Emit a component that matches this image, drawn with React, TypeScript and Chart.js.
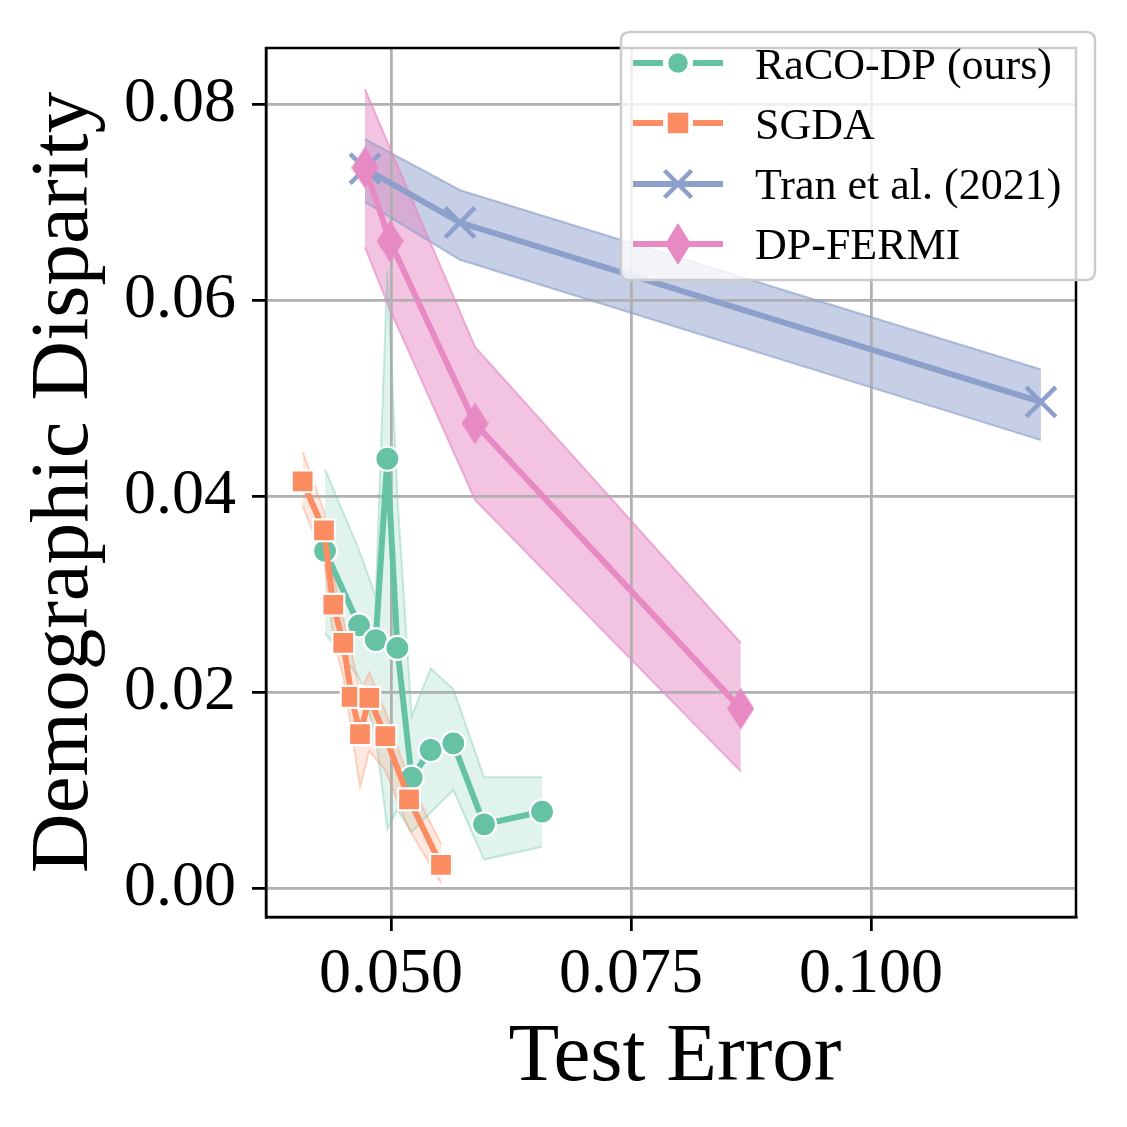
import React, { useEffect, useRef } from 'react';
import { Chart, registerables } from 'chart.js';

Chart.register(...registerables);

// ---------------- data ----------------
const seriesNames = ['RaCO-DP (ours)', 'SGDA', 'Tran et al. (2021)', 'DP-FERMI'];
const seriesColors = ['#66c2a5', '#fc8d62', '#8da0cb', '#e78ac3'];
const bandAlpha = [0.2, 0.2, 0.5, 0.5];

const racoX = [0.04313, 0.04667, 0.04841, 0.04962, 0.05066, 0.05215, 0.05413, 0.05649, 0.05969, 0.06573];
const racoY = [0.0344, 0.0268, 0.0253, 0.0438, 0.0245, 0.01126, 0.01408, 0.01476, 0.0065, 0.00779];
const racoUpper = [0.0427, 0.0345, 0.0297, 0.063, 0.04, 0.0175, 0.0224, 0.0203, 0.0113, 0.0113];
const racoLower = [0.026, 0.0215, 0.0155, 0.006, 0.008, 0.0057, 0.0077, 0.01, 0.0029, 0.0042];

const sgdaX = [0.0408, 0.04302, 0.04399, 0.04503, 0.0459, 0.04677, 0.04774, 0.04941, 0.05188, 0.05521];
const sgdaY = [0.0415, 0.0365, 0.0289, 0.025, 0.0195, 0.0157, 0.0194, 0.0155, 0.00905, 0.00235];
const sgdaUpper = [0.0445, 0.0385, 0.032, 0.0275, 0.024, 0.02, 0.022, 0.018, 0.011, 0.0045];
const sgdaLower = [0.039, 0.0335, 0.0255, 0.0215, 0.016, 0.0103, 0.014, 0.012, 0.006, 0.0005];

const tranX = [0.04729, 0.05719, 0.1177];
const tranY = [0.0734, 0.0679, 0.0496];
const tranUpper = [0.0764, 0.0712, 0.0529];
const tranLower = [0.07, 0.0641, 0.0457];

const fermiX = [0.04729, 0.0499, 0.05875, 0.08643];
const fermiY = [0.0735, 0.066, 0.0474, 0.0183];
const fermiUpper = [0.0815, 0.0755, 0.0552, 0.025];
const fermiLower = [0.0654, 0.059, 0.0396, 0.0119];

const xTicks = [0.05, 0.075, 0.1];
const yTicks = [0, 0.02, 0.04, 0.06, 0.08];
const xLabel = 'Test Error';
const yLabel = 'Demographic Disparity';

const SERIF = '"Liberation Serif", "DejaVu Serif", serif';

function hexA(hex: string, a: number) {
  const n = parseInt(hex.slice(1), 16);
  return `rgba(${(n >> 16) & 255},${(n >> 8) & 255},${n & 255},${a})`;
}

function pts(xs: number[], ys: number[]) {
  return xs.map((x, i) => ({ x, y: ys[i] }));
}

function makeDiamond(w: number, h: number, color: string) {
  const c = document.createElement('canvas');
  c.width = w;
  c.height = h;
  const g = c.getContext('2d')!;
  g.fillStyle = color;
  g.beginPath();
  g.moveTo(w / 2, 0);
  g.lineTo(w, h / 2);
  g.lineTo(w / 2, h);
  g.lineTo(0, h / 2);
  g.closePath();
  g.fill();
  return c;
}

const regridPlugin = {
  id: 'regrid',
  beforeDatasetsDraw(chart: any) {
    // matplotlib draws the grid above the shaded bands but below lines
    chart.scales.x.drawGrid(chart.chartArea);
    chart.scales.y.drawGrid(chart.chartArea);
  },
};

const framePlugin = {
  id: 'frame',
  afterDatasetsDraw(chart: any) {
    const { ctx, chartArea: a } = chart;
    ctx.save();
    ctx.strokeStyle = '#000';
    ctx.lineWidth = 2.5;
    ctx.strokeRect(a.left, a.top, a.right - a.left, a.bottom - a.top);
    ctx.restore();
  },
};

const titlesPlugin = {
  id: 'titles',
  afterDraw(chart: any) {
    const { ctx, chartArea: a } = chart;
    ctx.save();
    ctx.fillStyle = '#000';
    ctx.font = `83px ${SERIF}`;
    ctx.textAlign = 'center';
    ctx.textBaseline = 'alphabetic';
    ctx.fillText(xLabel, (a.left + a.right) / 2 + 4, 1080);
    ctx.translate(87, (a.top + a.bottom) / 2);
    ctx.rotate(-Math.PI / 2);
    ctx.fillText(yLabel, 0, 0);
    ctx.restore();
  },
};

const legendPlugin = {
  id: 'customLegend',
  afterDraw(chart: any) {
    const ctx = chart.ctx as CanvasRenderingContext2D;
    ctx.save();
    const bx = 621, by = 32, bw = 474, bh = 248, r = 9;
    ctx.beginPath();
    ctx.moveTo(bx + r, by);
    ctx.lineTo(bx + bw - r, by);
    ctx.quadraticCurveTo(bx + bw, by, bx + bw, by + r);
    ctx.lineTo(bx + bw, by + bh - r);
    ctx.quadraticCurveTo(bx + bw, by + bh, bx + bw - r, by + bh);
    ctx.lineTo(bx + r, by + bh);
    ctx.quadraticCurveTo(bx, by + bh, bx, by + bh - r);
    ctx.lineTo(bx, by + r);
    ctx.quadraticCurveTo(bx, by, bx + r, by);
    ctx.closePath();
    ctx.fillStyle = 'rgba(255,255,255,0.8)';
    ctx.fill();
    ctx.strokeStyle = '#cccccc';
    ctx.lineWidth = 2.5;
    ctx.stroke();

    const rows = [63, 123, 184, 244];
    const baselines = [79, 139, 199, 259];
    const x0 = 633, x1 = 723, cx = 678;
    ctx.lineCap = 'butt';
    seriesNames.forEach((name, i) => {
      const y = rows[i];
      const col = seriesColors[i];
      ctx.strokeStyle = col;
      ctx.lineWidth = 6;
      ctx.beginPath();
      if (i < 2) {
        ctx.moveTo(x0, y); ctx.lineTo(663, y);
        ctx.moveTo(693, y); ctx.lineTo(x1, y);
      } else {
        ctx.moveTo(x0, y); ctx.lineTo(x1, y);
      }
      ctx.stroke();
      if (i === 0) {
        ctx.beginPath();
        ctx.arc(cx, y, 10.5, 0, Math.PI * 2);
        ctx.fillStyle = col;
        ctx.fill();
        ctx.strokeStyle = '#fff';
        ctx.lineWidth = 1.5;
        ctx.stroke();
      } else if (i === 1) {
        ctx.fillStyle = col;
        ctx.fillRect(cx - 11, y - 11, 22, 22);
        ctx.strokeStyle = '#fff';
        ctx.lineWidth = 1.5;
        ctx.strokeRect(cx - 11, y - 11, 22, 22);
      } else if (i === 2) {
        ctx.strokeStyle = col;
        ctx.lineWidth = 4.5;
        ctx.beginPath();
        ctx.moveTo(cx - 13.5, y - 13.5); ctx.lineTo(cx + 13.5, y + 13.5);
        ctx.moveTo(cx - 13.5, y + 13.5); ctx.lineTo(cx + 13.5, y - 13.5);
        ctx.stroke();
      } else {
        ctx.fillStyle = col;
        ctx.beginPath();
        ctx.moveTo(cx, y - 21);
        ctx.lineTo(cx + 13, y);
        ctx.lineTo(cx, y + 21);
        ctx.lineTo(cx - 13, y);
        ctx.closePath();
        ctx.fill();
      }
      ctx.fillStyle = '#000';
      ctx.font = `44px ${SERIF}`;
      ctx.textAlign = 'left';
      ctx.textBaseline = 'alphabetic';
      ctx.fillText(name, 755, baselines[i]);
    });
    ctx.restore();
  },
};

export default function App() {
  const ref = useRef<HTMLCanvasElement | null>(null);

  useEffect(() => {
    document.body.style.margin = '0';
    const canvas = ref.current;
    if (!canvas) return;

    const diamond = makeDiamond(27, 42, seriesColors[3]);

    const series = [
      { xs: racoX, ys: racoY, up: racoUpper, lo: racoLower },
      { xs: sgdaX, ys: sgdaY, up: sgdaUpper, lo: sgdaLower },
      { xs: tranX, ys: tranY, up: tranUpper, lo: tranLower },
      { xs: fermiX, ys: fermiY, up: fermiUpper, lo: fermiLower },
    ];

    const datasets: any[] = [];
    // bands first (drawn beneath everything)
    series.forEach((s, i) => {
      const col = seriesColors[i];
      const lowIndex = datasets.length;
      datasets.push({
        label: seriesNames[i] + ' lower',
        data: pts(s.xs, s.lo),
        borderColor: hexA(col, bandAlpha[i] + 0.15),
        borderWidth: 2,
        pointRadius: 0,
        fill: false,
        tension: 0,
        order: 200 - datasets.length,
      });
      datasets.push({
        label: seriesNames[i] + ' upper',
        data: pts(s.xs, s.up),
        borderColor: hexA(col, bandAlpha[i] + 0.15),
        backgroundColor: hexA(col, bandAlpha[i]),
        borderWidth: 2,
        pointRadius: 0,
        fill: lowIndex,
        tension: 0,
        order: 200 - datasets.length,
      });
    });
    const styles: any[] = [
      { pointStyle: 'circle', pointRadius: 12, pointBorderColor: '#ffffff', pointBorderWidth: 2.2, pointBackgroundColor: seriesColors[0] },
      { pointStyle: 'rect', pointRadius: 15.5, pointBorderColor: '#ffffff', pointBorderWidth: 2.2, pointBackgroundColor: seriesColors[1] },
      { pointStyle: 'crossRot', pointRadius: 21, pointBorderColor: seriesColors[2], pointBorderWidth: 4.5, pointBackgroundColor: seriesColors[2] },
      { pointStyle: diamond, pointRadius: 14, pointBorderColor: seriesColors[3], pointBorderWidth: 0, pointBackgroundColor: seriesColors[3] },
    ];
    series.forEach((s, i) => {
      datasets.push({
        label: seriesNames[i],
        data: pts(s.xs, s.ys),
        borderColor: seriesColors[i],
        borderWidth: 6,
        fill: false,
        tension: 0,
        order: 50 - i,
        ...styles[i],
      });
    });

    const chart = new Chart(canvas, {
      type: 'line',
      data: { datasets },
      options: {
        animation: false,
        responsive: false,
        devicePixelRatio: 1,
        events: [],
        layout: { padding: { top: 48, right: 51, left: 0, bottom: 0 } },
        plugins: {
          legend: { display: false },
          tooltip: { enabled: false },
          filler: { drawTime: 'beforeDatasetsDraw', propagate: false },
        },
        scales: {
          x: {
            type: 'linear',
            min: 0.03698,
            max: 0.12135,
            afterBuildTicks: (scale: any) => {
              scale.ticks = xTicks.map((v) => ({ value: v }));
            },
            afterFit: (scale: any) => {
              scale.height = 210;
              scale.paddingLeft = 0;
              scale.paddingRight = 0;
              scale.paddingTop = 0;
              scale.paddingBottom = 0;
            },
            ticks: {
              autoSkip: false,
              maxRotation: 0,
              padding: 6,
              color: '#000',
              font: { family: SERIF, size: 64 },
              callback: (v: any) => Number(v).toFixed(3),
            },
            grid: {
              color: '#b0b0b0',
              lineWidth: 2.5,
              drawTicks: true,
              tickLength: 14,
              tickWidth: 2.5,
              tickColor: '#000',
            },
            border: { display: true, color: '#000', width: 2.5 },
          },
          y: {
            type: 'linear',
            min: -0.00296,
            max: 0.08571,
            afterBuildTicks: (scale: any) => {
              scale.ticks = yTicks.map((v) => ({ value: v }));
            },
            afterFit: (scale: any) => {
              scale.width = 266;
              scale.paddingLeft = 0;
              scale.paddingRight = 0;
              scale.paddingTop = 0;
              scale.paddingBottom = 0;
            },
            ticks: {
              autoSkip: false,
              padding: 16,
              color: '#000',
              font: { family: SERIF, size: 64 },
              callback: (v: any) => Number(v).toFixed(2),
            },
            grid: {
              color: '#b0b0b0',
              lineWidth: 2.5,
              drawTicks: true,
              tickLength: 14,
              tickWidth: 2.5,
              tickColor: '#000',
            },
            border: { display: true, color: '#000', width: 2.5 },
          },
        },
      },
      plugins: [regridPlugin, framePlugin, titlesPlugin, legendPlugin],
    } as any);

    return () => {
      chart.destroy();
    };
  }, []);

  return (
    <div style={{ width: 1127, height: 1127, background: '#fff' }}>
      <canvas ref={ref} width={1127} height={1127} style={{ width: 1127, height: 1127, display: 'block' }} />
    </div>
  );
}
